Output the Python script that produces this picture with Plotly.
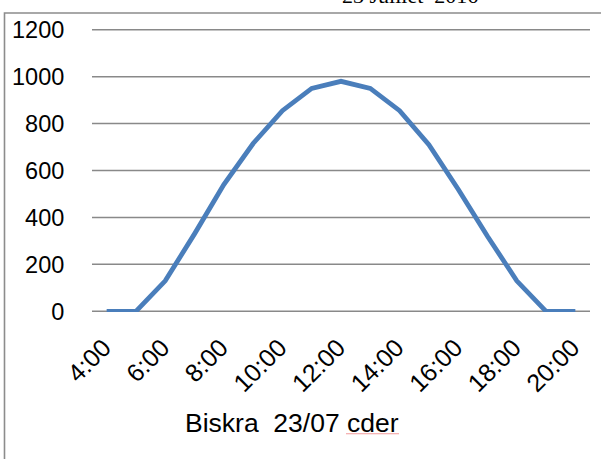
import plotly.graph_objects as go

# Hourly solar irradiance, Biskra, 23 July
hours = [4, 5, 6, 7, 8, 9, 10, 11, 12, 13, 14, 15, 16, 17, 18, 19, 20]
irradiance = [0, 0, 130, 330, 540, 715, 855, 950, 980, 950, 855, 710, 520, 320, 130, 0, 0]

tick_hours = [4, 6, 8, 10, 12, 14, 16, 18, 20]
tick_labels = ["4:00", "6:00", "8:00", "10:00", "12:00", "14:00", "16:00", "18:00", "20:00"]
y_ticks = [0, 200, 400, 600, 800, 1000, 1200]

title_text = "23 Juillet  2016"
caption_text = "Biskra  23/07 cder"

W, H = 601, 459
L, R, T, B = 92, 11, 28.6, 146.6
PW, PH = W - L - R, H - T - B


def px_x(p):
    return (p - L) / PW


def px_y(p):
    return (H - B - p) / PH


fig = go.Figure()
fig.add_trace(go.Scatter(
    x=hours, y=irradiance, mode="lines",
    line=dict(color="#4A7EBB", width=4.8),
    showlegend=False, hoverinfo="skip",
))

# horizontal grid lines, drawn as shapes so the edge values show too
grid_shapes = [
    dict(type="line", xref="paper", yref="y", x0=0, x1=1, y0=v, y1=v,
         line=dict(color="#898989", width=1.5), layer="below")
    for v in y_ticks
]

fig.update_layout(
    width=W, height=H,
    margin=dict(l=L, r=R, t=T, b=B, pad=0),
    paper_bgcolor="white", plot_bgcolor="white",
    font=dict(family="Liberation Sans, Arial, sans-serif", color="black"),
    xaxis=dict(
        range=[3.5, 20.5], tickmode="array", tickvals=tick_hours, ticktext=tick_labels,
        tickangle=-45, showgrid=False, zeroline=False, showline=False,
        ticks="outside", ticklen=10, tickcolor="rgba(0,0,0,0)",
        ticklabelshift=-3,
        tickfont=dict(size=25, family="Liberation Sans, Arial, sans-serif"),
    ),
    yaxis=dict(
        range=[-3, 1203], tickmode="array", tickvals=y_ticks,
        showgrid=False, zeroline=False, showline=False,
        ticks="outside", ticklen=22, tickcolor="rgba(0,0,0,0)",
        tickfont=dict(size=23.5, family="Liberation Sans, Arial, sans-serif"),
    ),
    shapes=grid_shapes + [
        # chart frame
        dict(type="rect", xref="paper", yref="paper",
             x0=px_x(4.5), x1=px_x(620), y0=px_y(480), y1=px_y(12.5),
             line=dict(color="#8c8c8c", width=1.6), fillcolor="rgba(0,0,0,0)", layer="below"),
        # spell-check underline below "cder"
        dict(type="line", xref="paper", yref="paper",
             x0=px_x(346), x1=px_x(399), y0=px_y(434.5), y1=px_y(434.5),
             line=dict(color="#f29a9a", width=1.2)),
    ],
    annotations=[
        dict(text=title_text, xref="paper", yref="paper",
             x=px_x(410), y=px_y(10), xanchor="center", yanchor="bottom",
             showarrow=False, font=dict(family="Liberation Serif, Times New Roman, serif", size=22)),
        dict(text=caption_text, xref="paper", yref="paper",
             x=px_x(291.5), y=px_y(423.5), xanchor="center", yanchor="middle",
             showarrow=False, font=dict(family="Liberation Sans, Arial, sans-serif", size=26.5)),
    ],
)

fig.write_html("out.html")
